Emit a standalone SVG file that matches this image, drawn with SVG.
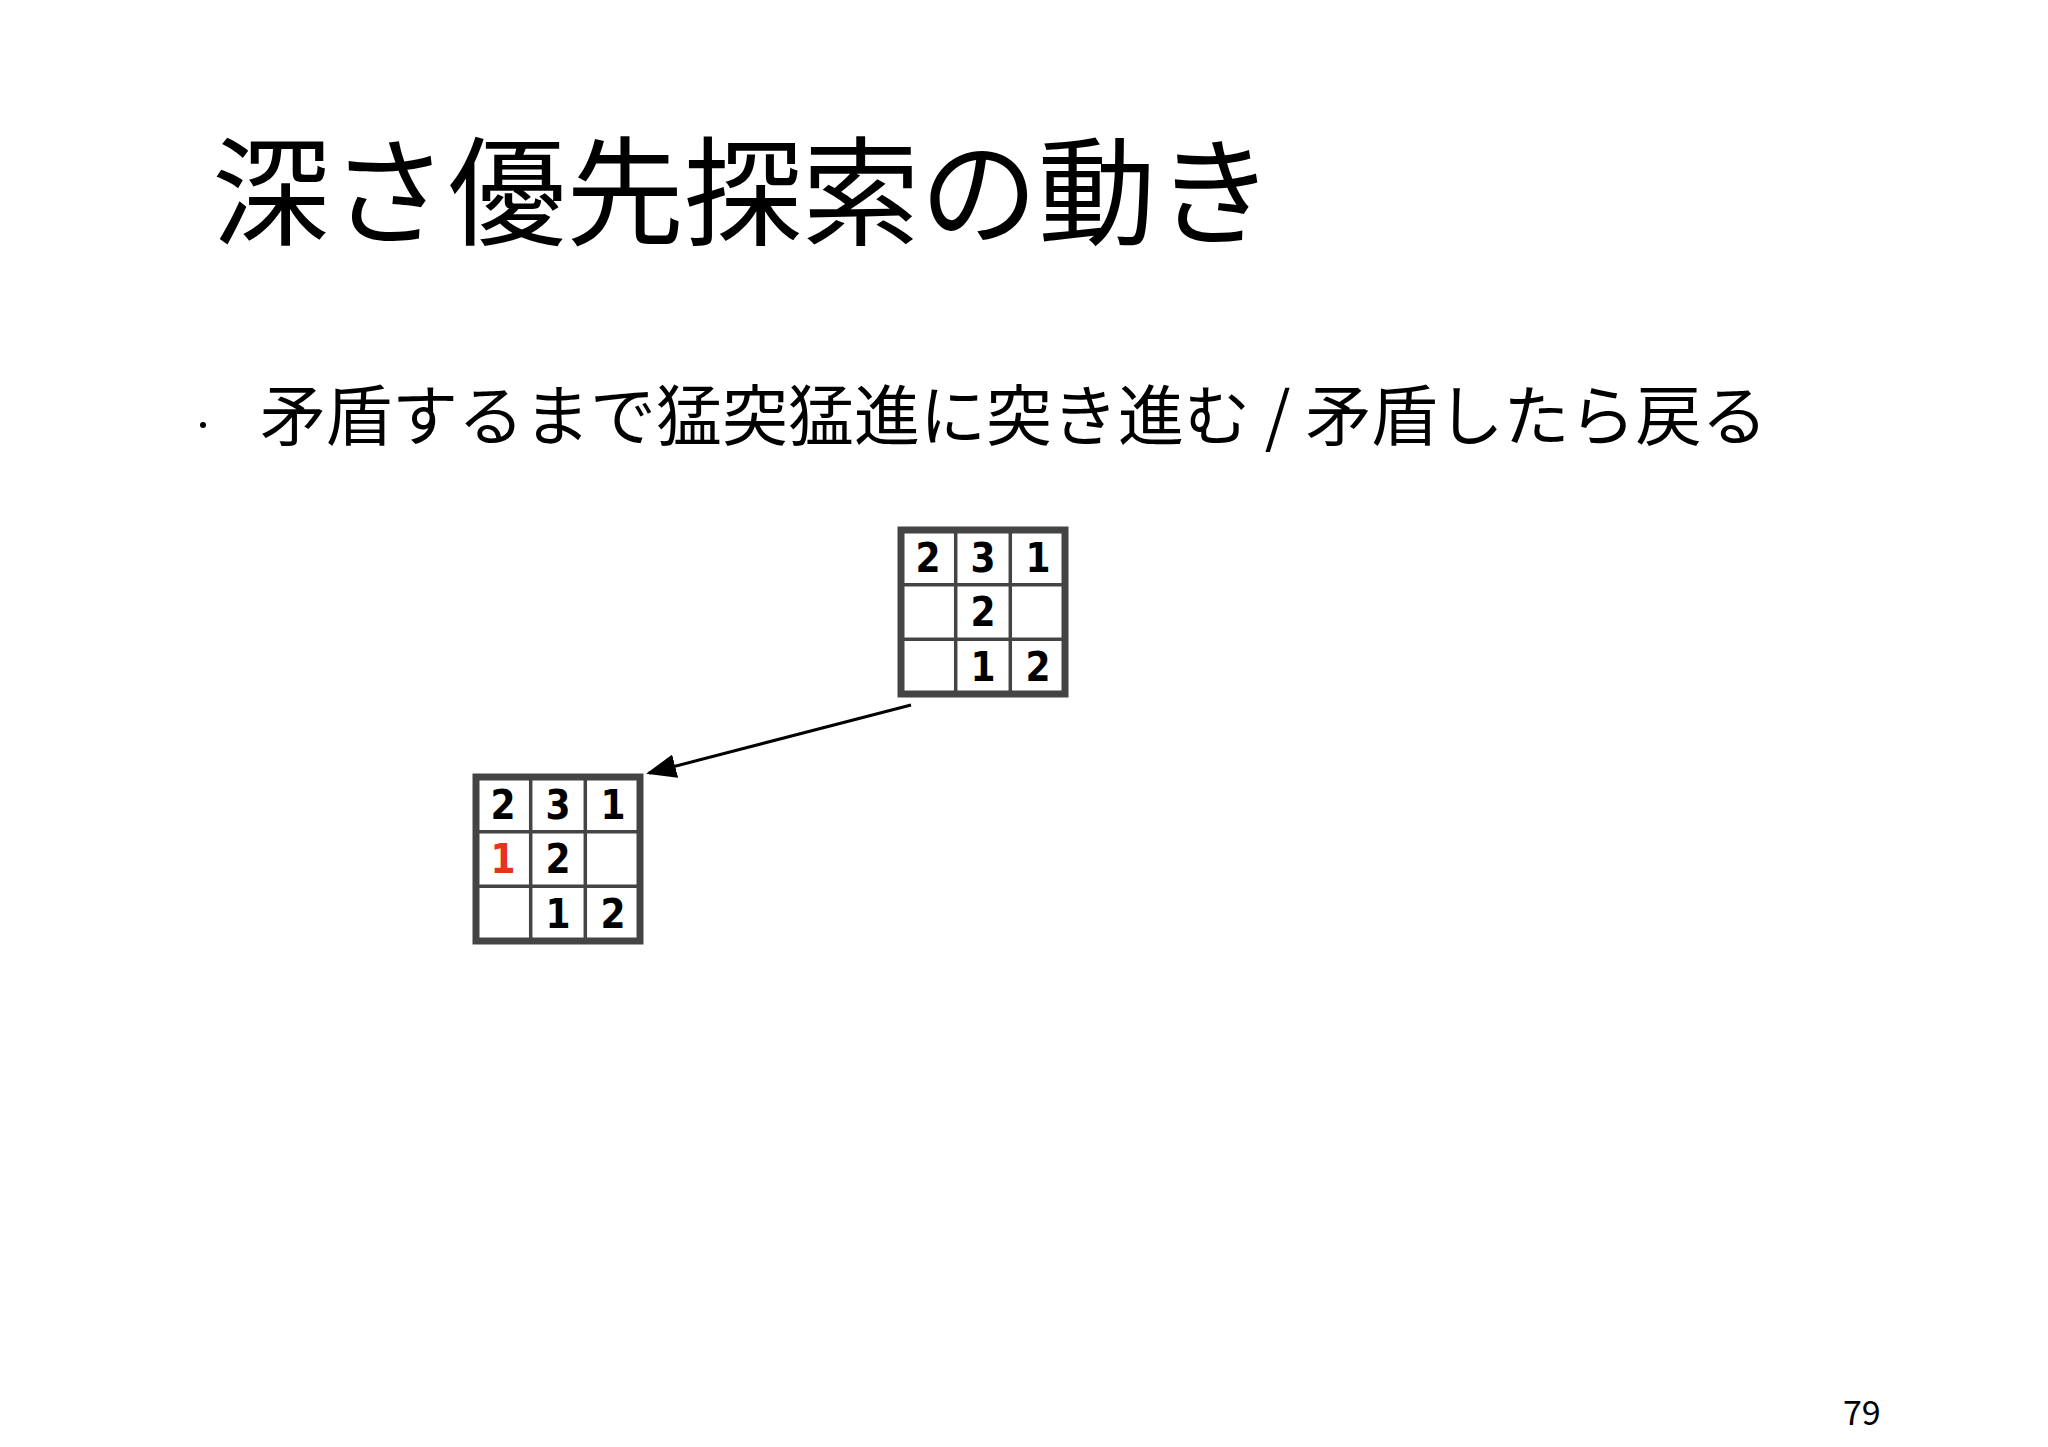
<svg xmlns="http://www.w3.org/2000/svg" width="2048" height="1447" viewBox="0 0 2048 1447">
<style>
.t{font-family:"Noto Sans CJK JP","Liberation Sans",sans-serif;fill:#000}
.outer{fill:#fff;stroke:#444;stroke-width:7}
.inner{stroke:#444;stroke-width:3.5}
.d{font-family:"DejaVu Sans Condensed","DejaVu Sans",sans-serif;font-weight:bold;font-size:40px;text-anchor:middle;fill:#000}
.r{fill:#e8321e}
</style>
<defs>
<marker id="ah" markerWidth="10" markerHeight="8" refX="9" refY="4" orient="auto" markerUnits="strokeWidth">
<path d="M0,0 L10,4 L0,8 z" fill="#000"/>
</marker>
<g id="grid">
<rect class="outer" x="0" y="0" width="164" height="164"/>
<line class="inner" x1="54.7" y1="0" x2="54.7" y2="164"/>
<line class="inner" x1="109.3" y1="0" x2="109.3" y2="164"/>
<line class="inner" x1="0" y1="54.7" x2="164" y2="54.7"/>
<line class="inner" x1="0" y1="109.3" x2="164" y2="109.3"/>
</g>
</defs>
<rect width="2048" height="1447" fill="#fff"/>
<text class="t" x="212" y="236" font-size="118">深さ優先探索の動き</text>
<circle cx="203" cy="425" r="3" fill="#000"/>
<text class="t" x="260" y="440" font-size="66">矛盾するまで猛突猛進に突き進む / 矛盾したら戻る</text>
<g id="node1" transform="translate(901,530)">
<use href="#grid"/>
<text class="d" x="27" y="42">2</text><text class="d" x="82" y="42">3</text><text class="d" x="137" y="42">1</text>
<text class="d" x="82" y="96">2</text>
<text class="d" x="82" y="151">1</text><text class="d" x="137" y="151">2</text>
</g>
<g id="node2" transform="translate(476,777)">
<use href="#grid"/>
<text class="d" x="27" y="42">2</text><text class="d" x="82" y="42">3</text><text class="d" x="137" y="42">1</text>
<text class="d r" x="27" y="96">1</text><text class="d" x="82" y="96">2</text>
<text class="d" x="82" y="151">1</text><text class="d" x="137" y="151">2</text>
</g>
<g id="connectors">
<line x1="911" y1="705" x2="649" y2="773" stroke="#000" stroke-width="3" marker-end="url(#ah)"/>
</g>
<text class="t" x="1843" y="1425" font-size="34">79</text>
</svg>
